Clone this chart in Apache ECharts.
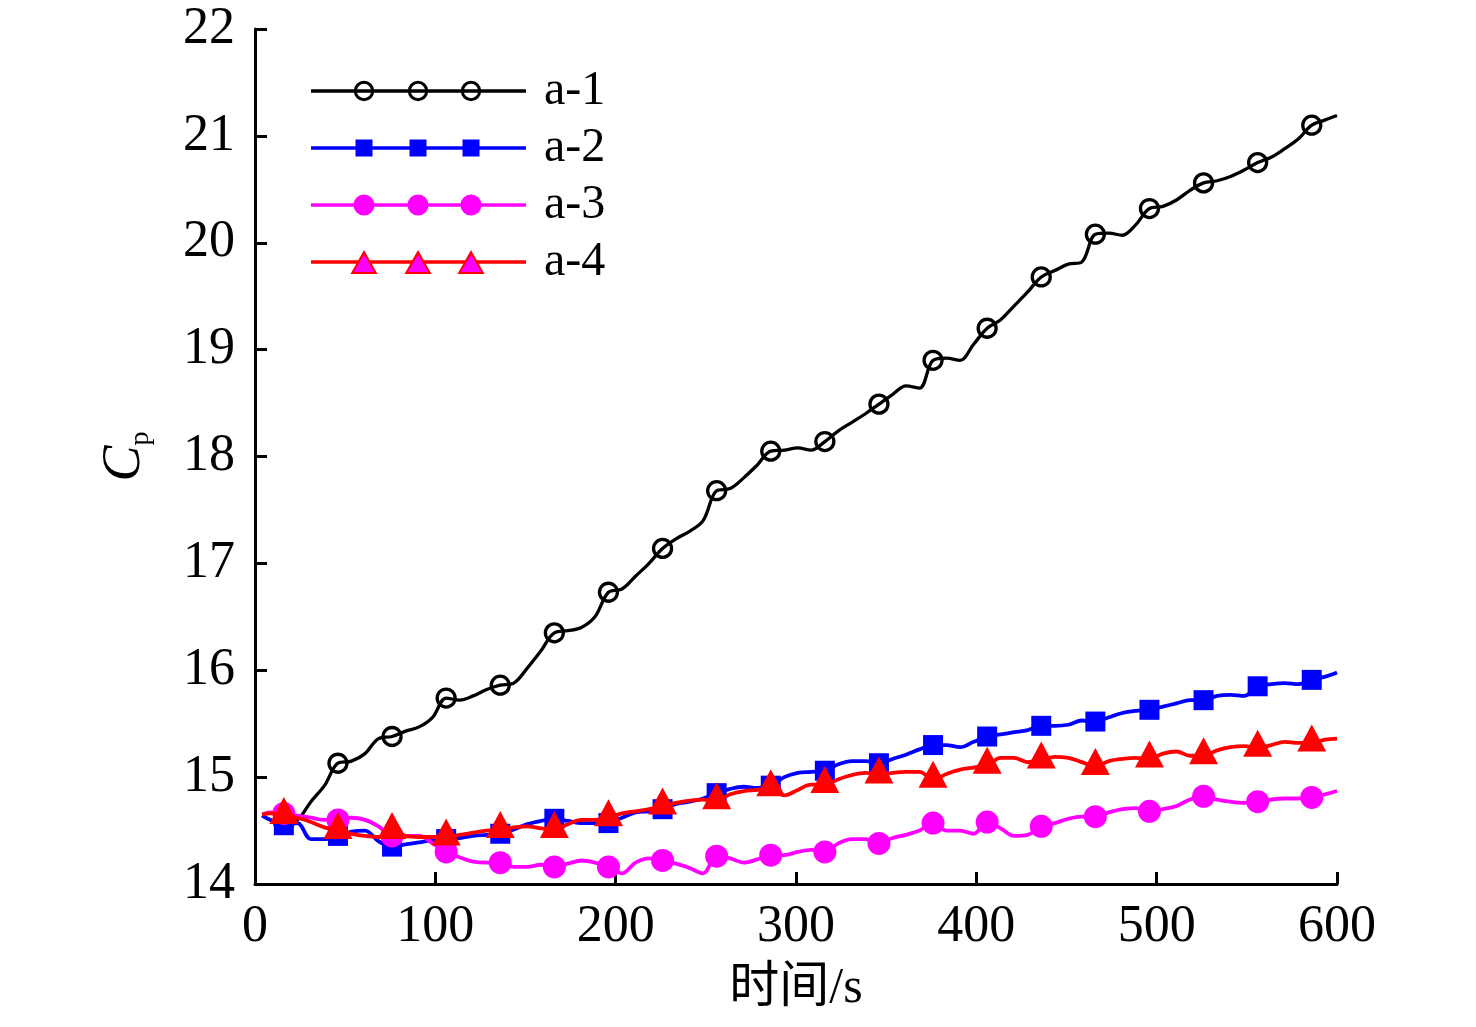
<!DOCTYPE html>
<html><head><meta charset="utf-8">
<script src="https://cdn.jsdelivr.net/npm/echarts@6/dist/echarts.min.js"></script>
<style>html,body{margin:0;padding:0;background:#fff}#main{width:1476px;height:1027px}</style>
</head><body><div id="main"></div>
<script>
// ---- data ----
const timeValues = [4, 8.5, 16, 23.5, 31, 38.5, 46, 53.5, 61, 68.5,
  76, 83.5, 91, 98.5, 106, 113.5, 121, 128.5, 136, 143.5,
  151, 158.5, 166, 173.5, 181, 188.5, 196, 203.5, 211, 218.5,
  226, 233.5, 241, 248.5, 256, 263.5, 271, 278.5, 286, 293.5,
  301, 308.5, 316, 323.5, 331, 338.5, 346, 353.5, 361, 368.5,
  376, 383.5, 391, 398.5, 406, 413.5, 421, 428.5, 436, 443.5,
  451, 458.5, 466, 473.5, 481, 488.5, 496, 503.5, 511, 518.5,
  526, 533.5, 541, 548.5, 556, 563.5, 571, 578.5, 586, 593.5, 600];
const markerTimes = [16, 46, 76, 106, 136, 166, 196, 226, 256, 286,
  316, 346, 376, 406, 436, 466, 496, 526, 556, 586];
const seriesNames = ['a-1', 'a-2', 'a-3', 'a-4'];
const a1Values = [14.64, 14.6, 14.57, 14.6, 14.77, 14.92, 15.13, 15.15, 15.22, 15.36,
  15.38, 15.43, 15.47, 15.56, 15.74, 15.72, 15.76, 15.82, 15.86, 15.88,
  16.02, 16.18, 16.35, 16.37, 16.4, 16.5, 16.73, 16.76, 16.88, 17.0,
  17.14, 17.23, 17.3, 17.4, 17.68, 17.7, 17.8, 17.92, 18.05, 18.06,
  18.08, 18.06, 18.14, 18.24, 18.32, 18.4, 18.49, 18.58, 18.66, 18.64,
  18.9, 18.92, 18.9, 19.05, 19.2, 19.28, 19.41, 19.54, 19.68, 19.74,
  19.8, 19.82, 20.08, 20.09, 20.07, 20.17, 20.32, 20.34, 20.4, 20.49,
  20.56, 20.58, 20.62, 20.68, 20.75, 20.8, 20.88, 20.97, 21.1, 21.15, 21.19];
const a2Values = [14.64, 14.6, 14.55, 14.57, 14.42, 14.42, 14.45, 14.49, 14.5, 14.4,
  14.35, 14.37, 14.39, 14.41, 14.42, 14.43, 14.45, 14.46, 14.47, 14.51,
  14.56, 14.59, 14.61, 14.59, 14.57, 14.57, 14.57, 14.62, 14.67, 14.68,
  14.7, 14.75, 14.77, 14.8, 14.85, 14.89, 14.91, 14.9, 14.92, 15.0,
  15.04, 15.05, 15.06, 15.12, 15.15, 15.15, 15.13, 15.17, 15.21, 15.26,
  15.3, 15.3, 15.28, 15.33, 15.38, 15.4, 15.42, 15.44, 15.48, 15.48,
  15.49, 15.53, 15.52, 15.56, 15.6, 15.62, 15.63, 15.66, 15.69, 15.72,
  15.72, 15.76, 15.77, 15.76, 15.85, 15.87, 15.88, 15.87, 15.91, 15.94, 15.98];
const a3Values = [14.65, 14.67, 14.66, 14.64, 14.62, 14.6, 14.6, 14.62, 14.6, 14.54,
  14.45, 14.45, 14.45, 14.38, 14.3, 14.25, 14.21, 14.2, 14.2, 14.16,
  14.16, 14.18, 14.16, 14.19, 14.22, 14.2, 14.16, 14.1, 14.2, 14.24,
  14.22, 14.19, 14.15, 14.1, 14.26, 14.24, 14.2, 14.23, 14.27, 14.27,
  14.3, 14.32, 14.3, 14.38, 14.42, 14.42, 14.38, 14.43, 14.46, 14.5,
  14.57, 14.5, 14.5, 14.47, 14.58, 14.52, 14.45, 14.46, 14.54, 14.57,
  14.61, 14.63, 14.63, 14.67, 14.7, 14.71, 14.68, 14.7, 14.73, 14.79,
  14.82, 14.79, 14.77, 14.76, 14.77, 14.79, 14.8, 14.8, 14.81, 14.84, 14.87];
const a4Values = [14.65, 14.66, 14.64, 14.62, 14.58, 14.53, 14.5, 14.47, 14.45, 14.44,
  14.5, 14.45, 14.44, 14.44, 14.44, 14.46, 14.48, 14.5, 14.51, 14.53,
  14.54, 14.52, 14.51, 14.56, 14.6, 14.6, 14.62, 14.66, 14.68, 14.7,
  14.73, 14.76, 14.78, 14.79, 14.78, 14.84, 14.87, 14.88, 14.9, 14.83,
  14.88, 14.93, 14.93, 14.98, 15.02, 15.04, 15.02, 15.04, 15.05, 15.05,
  14.98, 15.03, 15.07, 15.09, 15.11, 15.18, 15.18, 15.14, 15.16, 15.19,
  15.18, 15.14, 15.1, 15.15, 15.17, 15.18, 15.17, 15.22, 15.24, 15.2,
  15.2, 15.25, 15.28, 15.29, 15.27, 15.3, 15.33, 15.32, 15.32, 15.35, 15.36];
const xTickLabels = ['0', '100', '200', '300', '400', '500', '600'];
const yTickLabels = ['14', '15', '16', '17', '18', '19', '20', '21', '22'];

// ---- styling ----
const SERIF = 'Liberation Serif, "Times New Roman", serif';
const markerSet = new Set(markerTimes);
const pairs = vals => timeValues.map((t, i) => [t, vals[i]]);

// legend icons (two overlapping legends: lines underneath, markers on top)
const IW = 228, IH = 24, MID = 12;
const anchors = `M0 0h0.01v0.01h-0.01Z M${IW - 0.01} ${IH - 0.01}h0.01v0.01h-0.01Z `;
const iconX = [53, 107, 160];
const lineOnly = `M0 ${MID - 1.75}h215v3.5h-215Z`;
const linePath = 'path://' + anchors + lineOnly;
const lineTriPath = 'path://' + anchors + lineOnly + ' ' + iconX.map(c => `M${c} 0L${c + 13.5} 24L${c - 13.5} 24Z`).join(' ');
const ringPath = 'path://' + anchors + iconX.map(c =>
  `M${c + 10.2} ${MID}A10.2 10.2 0 1 0 ${c - 10.2} ${MID}A10.2 10.2 0 1 0 ${c + 10.2} ${MID}Z ` +
  `M${c + 7.2} ${MID}A7.2 7.2 0 1 1 ${c - 7.2} ${MID}A7.2 7.2 0 1 1 ${c + 7.2} ${MID}Z`).join(' ');
const squarePath = 'path://' + anchors + iconX.map(c => `M${c - 8.5} ${MID - 8.5}h17v17h-17Z`).join(' ');
const dotPath = 'path://' + anchors + iconX.map(c =>
  `M${c + 10.5} ${MID}A10.5 10.5 0 1 0 ${c - 10.5} ${MID}A10.5 10.5 0 1 0 ${c + 10.5} ${MID}Z`).join(' ');
const triInnerPath = 'path://' + anchors + iconX.map(c => `M${c} 4.5L${c + 10.2} 22L${c - 10.2} 22Z`).join(' ');

const colors = ['#000000', '#0000ff', '#ff00ff', '#ff0000'];
const legendBase = {
  orient: 'vertical', left: 311, top: 67, padding: 0,
  itemWidth: IW, itemHeight: IH, itemGap: 9, selectedMode: false,
  textStyle: { fontSize: 48, fontFamily: SERIF, color: '#000' }
};
const lineIcons = [linePath, linePath, linePath, lineTriPath];
const lineLegend = Object.assign({}, legendBase, {
  data: seriesNames.map((n, i) => ({ name: n, icon: lineIcons[i],
    itemStyle: { color: colors[i], borderWidth: 0, borderColor: colors[i] } }))
});
const markerIcons = [ringPath, squarePath, dotPath, triInnerPath];
const markerColors = ['#000000', '#0000ff', '#ff00ff', '#ff00ff'];
const markerLegend = Object.assign({}, legendBase, {
  z: 10,
  textStyle: { fontSize: 48, fontFamily: SERIF, color: 'rgba(0,0,0,0)' },
  data: seriesNames.map((n, i) => ({ name: n, icon: markerIcons[i],
    itemStyle: { color: markerColors[i], borderWidth: 0, borderColor: markerColors[i] } }))
});

const symbolFor = type => (value) => markerSet.has(value[0]) ? type : 'none';

const chart = echarts.init(document.getElementById('main'), null, { renderer: 'canvas' });
chart.setOption({
  animation: false,
  backgroundColor: '#fff',
  grid: { left: 255, right: 139, top: 29, bottom: 143, containLabel: false, outerBoundsMode: 'none' },
  legend: [lineLegend, markerLegend],
  xAxis: {
    type: 'value', min: 0, max: 600, interval: 100,
    name: '时间/s', nameLocation: 'middle', nameGap: 80,
    nameTextStyle: { fontSize: 50, fontFamily: 'Liberation Serif, "Noto Sans CJK SC", serif', color: '#000' },
    axisLine: { show: true, lineStyle: { color: '#000', width: 3 } },
    axisTick: { show: true, inside: true, length: 12, lineStyle: { color: '#000', width: 3 } },
    axisLabel: { fontSize: 52, fontFamily: SERIF, color: '#000', margin: 17, showMinLabel: true, showMaxLabel: true,
      formatter: v => xTickLabels[Math.round(v / 100)] },
    splitLine: { show: false }
  },
  yAxis: {
    type: 'value', min: 14, max: 22, interval: 1,
    name: '{c|C}{p|p}', nameLocation: 'middle', nameGap: 100, nameRotate: 90,
    nameTextStyle: {
      color: '#000',
      rich: {
        c: { fontSize: 54, fontStyle: 'italic', fontFamily: SERIF, lineHeight: 60, color: '#000' },
        p: { fontSize: 28, fontFamily: SERIF, lineHeight: 28, verticalAlign: 'bottom', color: '#000' }
      }
    },
    axisLine: { show: true, lineStyle: { color: '#000', width: 3 } },
    axisTick: { show: true, inside: true, length: 12, lineStyle: { color: '#000', width: 3 } },
    axisLabel: { fontSize: 52, fontFamily: SERIF, color: '#000', margin: 20, showMinLabel: true, showMaxLabel: true,
      formatter: v => yTickLabels[Math.round(v - 14)] },
    splitLine: { show: false }
  },
  series: [
    { name: seriesNames[0], type: 'line', data: pairs(a1Values), smooth: 0.35, showAllSymbol: true,
      symbol: symbolFor('circle'), symbolSize: 18, z: 2,
      lineStyle: { color: '#000', width: 3.3 },
      itemStyle: { color: 'rgba(0,0,0,0)', borderColor: '#000', borderWidth: 3.3 },
      emphasis: { disabled: true } },
    { name: seriesNames[1], type: 'line', data: pairs(a2Values), smooth: 0.35, showAllSymbol: true,
      symbol: symbolFor('rect'), symbolSize: 20, z: 3,
      lineStyle: { color: '#0000ff', width: 3.8 },
      itemStyle: { color: '#0000ff', borderWidth: 0 },
      emphasis: { disabled: true } },
    { name: seriesNames[2], type: 'line', data: pairs(a3Values), smooth: 0.35, showAllSymbol: true,
      symbol: symbolFor('circle'), symbolSize: 23, z: 4,
      lineStyle: { color: '#ff00ff', width: 3.8 },
      itemStyle: { color: '#ff00ff', borderWidth: 0 },
      emphasis: { disabled: true } },
    { name: seriesNames[3], type: 'line', data: pairs(a4Values), smooth: 0.35, showAllSymbol: true,
      symbol: symbolFor('triangle'), symbolSize: [29, 27], symbolOffset: [0, -5], z: 5,
      lineStyle: { color: '#ff0000', width: 3.8 },
      itemStyle: { color: '#ff0000', borderWidth: 0 },
      emphasis: { disabled: true } }
  ]
});
</script>
</body></html>
